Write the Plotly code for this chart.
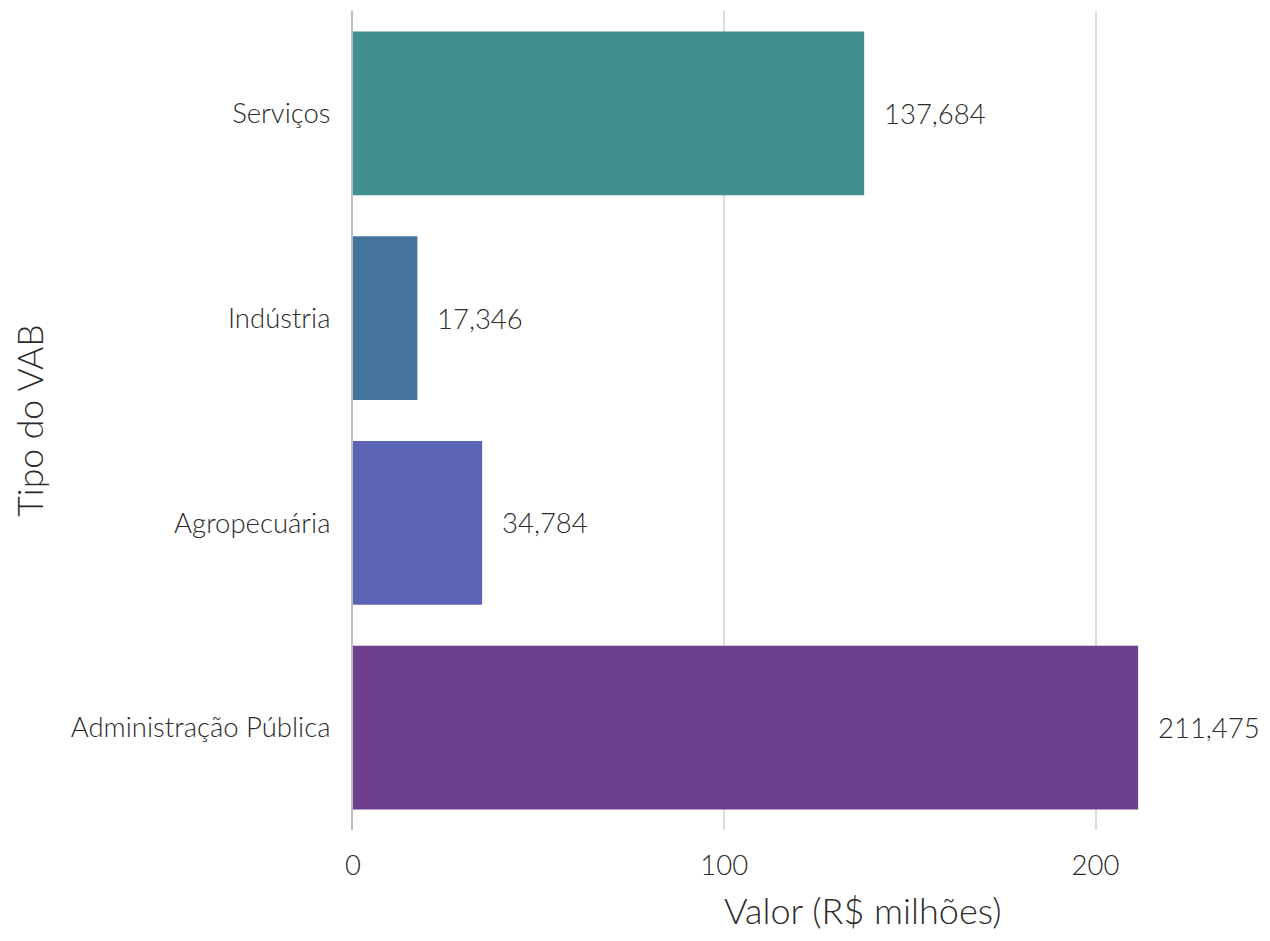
import plotly.graph_objects as go

# VAB values (R$ milhões)
categories = ['Administração Pública', 'Agropecuária', 'Indústria', 'Serviços']
values = [211.475, 34.784, 17.346, 137.684]
colors = ['#6E3F8F', '#5B63B7', '#44749E', '#3F8F8F']
labels = [f"{v:.3f}".replace('.', ',') for v in values]

font_family = 'Lato'
text_color = '#2b2b2b'

fig = go.Figure(
    go.Bar(
        x=values,
        y=categories,
        orientation='h',
        marker=dict(color=colors, line=dict(width=0)),
        hoverinfo='x+y',
    )
)

# value labels to the right of each bar
for v, c, t in zip(values, categories, labels):
    fig.add_annotation(
        x=v, y=c, text=t, showarrow=False,
        xanchor='left', xshift=18,
        font=dict(family=font_family, size=27.5, color=text_color, weight=300),
    )

# x axis title sits a little right of the plot centre in the original
fig.add_annotation(
    x=0.562, y=0, xref='paper', yref='paper',
    text='Valor (R$ milhões)', showarrow=False,
    xanchor='center', yanchor='middle', yshift=-80,
    font=dict(family=font_family, size=36, color=text_color, weight=300),
)

# page body adds an 8px offset, so the figure is a bit smaller than the window
fig.update_layout(
    width=1254, height=925,
    margin=dict(l=345, r=2, t=3, b=103),
    plot_bgcolor='white', paper_bgcolor='white',
    bargap=0.2,
    showlegend=False,
    font=dict(family=font_family, size=28, color=text_color, weight=300),
    xaxis=dict(
        range=[0, 244.3],
        tickvals=[0, 100, 200],
        showgrid=True, gridcolor='#DCDCDC', gridwidth=2,
        zeroline=False,
        showline=False,
        automargin=False,
        ticks='', ticklabelstandoff=16,
        tickfont=dict(size=27.5, weight=300),
    ),
    yaxis=dict(
        showgrid=False, zeroline=False,
        showline=True, linecolor='#BBBBBB', linewidth=2,
        automargin=False,
        ticks='', ticklabelstandoff=15,
        tickfont=dict(size=27.5, weight=300),
        title=dict(text='Tipo do VAB', standoff=23,
                   font=dict(size=35.5, weight=300)),
    ),
)

fig.write_html("out.html")
